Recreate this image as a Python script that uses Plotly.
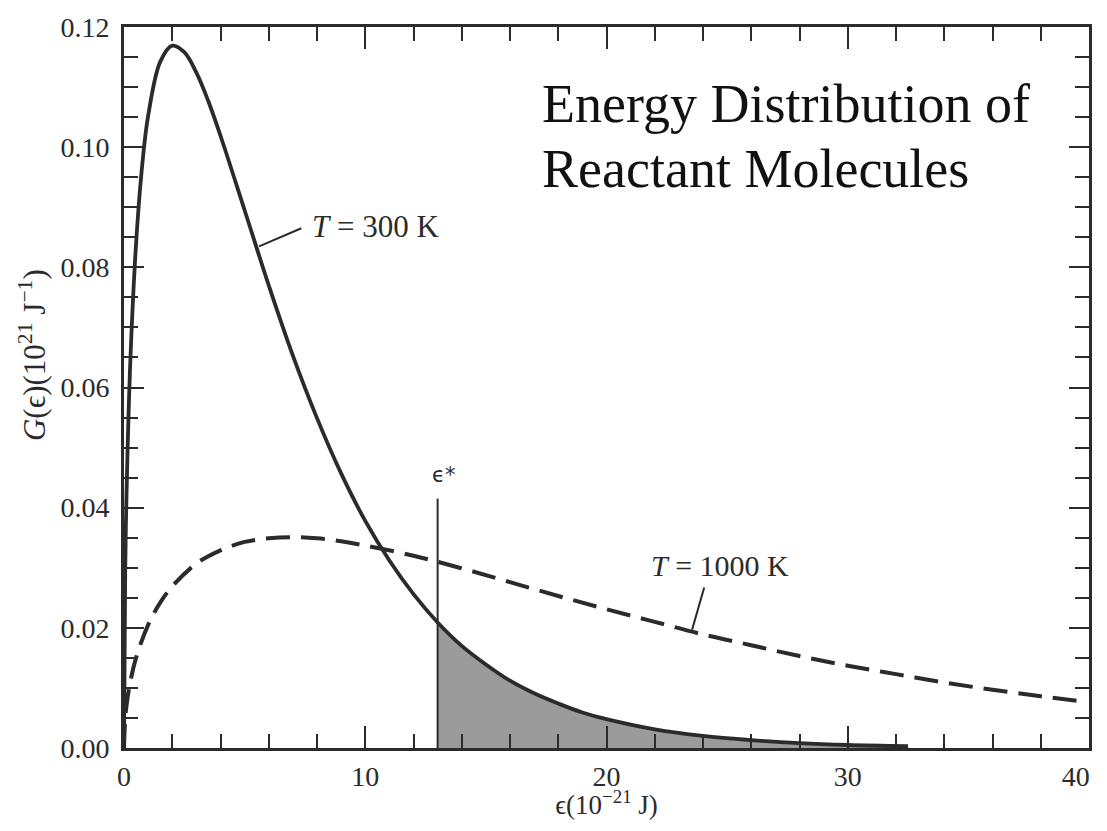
import plotly.graph_objects as go

# ---- data ----
G300_X = [0, 0.05, 0.1, 0.2, 0.3, 0.5, 0.75, 1, 1.5, 2, 2.5, 3, 3.5, 4, 5, 6, 7, 8, 9, 10,
          11, 12, 13, 14, 15, 16, 17, 18, 19, 20, 22, 24, 26, 28, 30, 32.5]
G300_Y = [0.0, 0.0296, 0.0414, 0.0571, 0.0682, 0.0839, 0.0968, 0.1052, 0.1142, 0.1169,
          0.1158, 0.1124, 0.1076, 0.1019, 0.0895, 0.0770, 0.0653, 0.0549, 0.0457, 0.0378,
          0.0312, 0.0256, 0.0209, 0.0170, 0.0139, 0.0112, 0.0091, 0.0074, 0.0059, 0.0048,
          0.0031, 0.0020, 0.0013, 0.0008, 0.0005, 0.0003]

G1000_X = [0, 0.05, 0.1, 0.25, 0.5, 1, 1.5, 2, 3, 4, 5, 6, 7, 8, 9, 10, 12, 14, 16, 18,
           20, 22, 24, 26, 28, 30, 32, 34, 36, 38, 39.8]
G1000_Y = [0.0, 0.0049, 0.0069, 0.0108, 0.0150, 0.0205, 0.0242, 0.0269, 0.0307, 0.0329,
           0.0343, 0.0349, 0.0351, 0.0349, 0.0344, 0.0337, 0.0320, 0.0299, 0.0276, 0.0253,
           0.0231, 0.0210, 0.0189, 0.0171, 0.0153, 0.0137, 0.0123, 0.0109, 0.0097, 0.0086,
           0.0077]

ESTAR = 13          # threshold energy
ESTAR_TOP = 0.0415  # top of the threshold marker line

X_TICKS = [0, 10, 20, 30, 40]
X_TICK_LABELS = ["0", "10", "20", "30", "40\u00a0\u00a0\u00a0\u2009"]
Y_TICKS = [0.00, 0.02, 0.04, 0.06, 0.08, 0.10, 0.12]
Y_TICK_LABELS = ["0.00", "0.02", "0.04", "0.06", "0.08", "0.10", "0.12"]

INK = "#2b2b2b"
SERIF = "Liberation Serif, Times New Roman, serif"

shade_x = [x for x in G300_X if x >= ESTAR]
shade_y = [y for x, y in zip(G300_X, G300_Y) if x >= ESTAR]

fig = go.Figure()

# shaded area above the threshold
fig.add_trace(go.Scatter(x=shade_x, y=shade_y, mode="lines", fill="tozeroy",
                         fillcolor="rgba(130,130,130,0.8)", line=dict(width=0, color=INK),
                         line_shape="spline", hoverinfo="skip", showlegend=False))

# T = 1000 K dashed
fig.add_trace(go.Scatter(x=G1000_X, y=G1000_Y, mode="lines", line_shape="spline",
                         line=dict(color=INK, width=4, dash="24px,11px"), showlegend=False))

# T = 300 K solid
fig.add_trace(go.Scatter(x=G300_X, y=G300_Y, mode="lines", line_shape="spline",
                         line=dict(color=INK, width=3.8), showlegend=False))

# threshold marker
fig.add_shape(type="line", x0=ESTAR, x1=ESTAR, y0=0, y1=ESTAR_TOP, xref="x", yref="y",
              line=dict(color=INK, width=2))

# leader lines
fig.add_shape(type="line", x0=5.6, y0=0.0835, x1=7.35, y1=0.0865, xref="x", yref="y",
              line=dict(color=INK, width=2))
fig.add_shape(type="line", x0=23.55, y0=0.0197, x1=24.05, y1=0.0267, xref="x", yref="y",
              line=dict(color=INK, width=2))

fig.add_annotation(x=7.7, y=0.0868, xref="x", yref="y", xanchor="left", yanchor="middle",
                   text="<i>T</i> = 300 K", showarrow=False,
                   font=dict(family=SERIF, size=31, color=INK))
fig.add_annotation(x=21.75, y=0.0303, xref="x", yref="y", xanchor="left", yanchor="middle",
                   text="<i>T</i> = 1000 K", showarrow=False,
                   font=dict(family=SERIF, size=30, color=INK))
fig.add_annotation(x=ESTAR + 0.25, y=0.0455, xref="x", yref="y", xanchor="center", yanchor="middle",
                   text="ϵ*", showarrow=False,
                   font=dict(family="DejaVu Sans, sans-serif", size=21, color=INK))

fig.add_annotation(x=0.431, y=0.893, xref="paper", yref="paper", xanchor="left", yanchor="middle",
                   text="Energy Distribution of", showarrow=False,
                   font=dict(family=SERIF, size=54, color="#111111"))
fig.add_annotation(x=0.431, y=0.803, xref="paper", yref="paper", xanchor="left", yanchor="middle",
                   text="Reactant Molecules", showarrow=False,
                   font=dict(family=SERIF, size=54, color="#111111"))

# y-axis title (placed as rotated text to match its position)
fig.add_annotation(x=0, y=0.545, xref="paper", yref="paper", xanchor="center", yanchor="middle",
                   xshift=-92, textangle=-90, showarrow=False,
                   text="<i>G</i>(ϵ)(10<sup>21</sup> J<sup>−1</sup>)",
                   font=dict(family=SERIF, size=31, color=INK))

axis_common = dict(showline=True, linewidth=3, linecolor=INK, mirror="ticks",
                   ticks="inside", tickwidth=2, tickcolor=INK, showgrid=False,
                   zeroline=False, ticklabeloverflow="allow",
                   tickfont=dict(family=SERIF, size=28, color=INK))

fig.update_xaxes(range=[0, 40], tickvals=X_TICKS, ticktext=X_TICK_LABELS, ticklen=22,
                 ticklabelstandoff=1,
                 minor=dict(dtick=2, ticks="inside", ticklen=14, tickwidth=2, tickcolor=INK),
                 title=dict(text="ϵ(10<sup>−21</sup> J)", standoff=5,
                            font=dict(family=SERIF, size=27, color=INK)),
                 **axis_common)
fig.update_yaxes(range=[0, 0.12], tickvals=Y_TICKS, ticktext=Y_TICK_LABELS, ticklen=20,
                 ticklabelstandoff=6,
                 minor=dict(dtick=0.005, ticks="inside", ticklen=14, tickwidth=2, tickcolor=INK),
                 **axis_common)

fig.update_layout(width=1084, height=812, plot_bgcolor="white", paper_bgcolor="white",
                  margin=dict(l=116, r=3, t=19, b=72, autoexpand=False), showlegend=False)

fig.write_html("out.html")
